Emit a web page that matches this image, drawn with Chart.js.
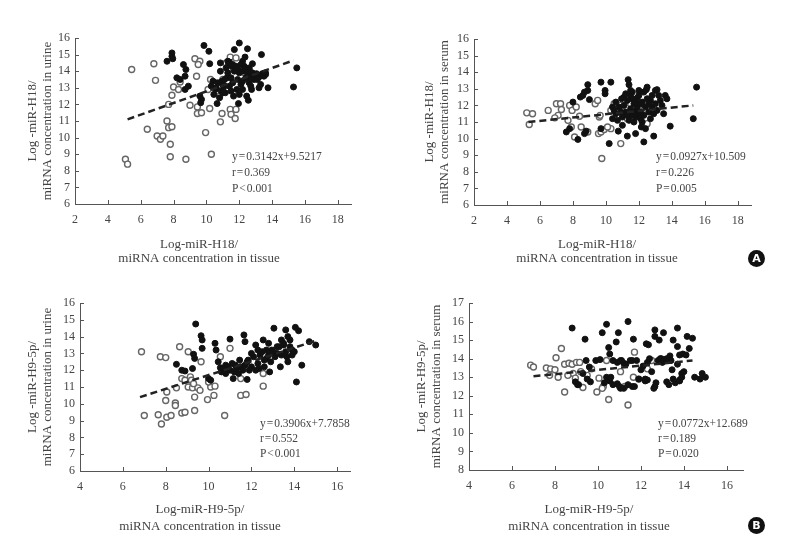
<!DOCTYPE html>
<html>
<head>
<meta charset="utf-8">
<script src="https://cdn.jsdelivr.net/npm/chart.js@4.4.0/dist/chart.umd.min.js"></script>
<style>
  body { margin: 0; background: #fff; }
  #wrap { position: relative; width: 790px; height: 548px; }
  canvas { position: absolute; }
  .badge {
    position: absolute; width: 17px; height: 17px; border-radius: 50%;
    background: #111; color: #fff; font: bold 11px "DejaVu Sans", sans-serif;
    text-align: center; line-height: 17px;
  }
</style>
</head>
<body>
<div id="wrap">
  <canvas id="c1" width="395" height="280" style="left:0;top:0"></canvas>
  <canvas id="c2" width="395" height="280" style="left:395px;top:0"></canvas>
  <canvas id="c3" width="395" height="268" style="left:0;top:280px"></canvas>
  <canvas id="c4" width="395" height="268" style="left:395px;top:280px"></canvas>
  <div class="badge" style="left:748px;top:250px">A</div>
  <div class="badge" style="left:748px;top:517px">B</div>
</div>
<script>
// ---- data: [tissue, fluid] ----
const h18UrineOpen = [[5.07,8.7],[5.2,8.4],[5.45,14.1],[6.4,10.5],[6.8,14.45],[6.9,13.45],[7.0,10.1],[7.2,9.9],[7.35,10.1],[7.6,11.0],[7.7,10.6],[7.9,10.65],[7.8,9.6],[7.8,8.85],[7.7,12.0],[7.9,12.55],[8.0,13.05],[8.3,12.9],[8.4,13.35],[8.75,8.7],[9.0,11.95],[9.4,13.7],[9.3,14.75],[9.6,14.6],[9.5,14.4],[9.45,11.85],[9.45,11.45],[9.7,11.5],[9.95,10.3],[10.2,11.75],[10.3,9.0],[10.25,13.5],[10.4,13.2],[10.85,10.95],[10.95,11.45],[11.45,11.7],[11.5,11.4],[11.75,11.15],[11.8,11.7],[11.45,14.85],[11.8,14.8],[11.65,14.1],[10.8,12.5],[12.3,13.9],[11.2,14.5],[10.5,13.3],[11.0,13.5],[12.6,14.1],[10.1,12.9]];
const h18UrineFilled = [[7.6,14.6],[7.9,15.1],[7.9,14.9],[7.95,14.75],[8.2,13.6],[8.4,13.5],[8.6,14.4],[8.75,14.1],[8.7,13.7],[8.7,12.9],[8.9,13.1],[9.6,12.5],[9.7,12.3],[9.65,12.1],[9.85,15.55],[10.15,15.2],[10.2,14.45],[10.3,13.1],[10.4,13.4],[10.55,12.9],[10.45,12.6],[10.65,12.05],[10.85,14.5],[10.85,14.0],[10.95,13.4],[11.05,13.05],[11.15,12.7],[11.25,13.6],[11.4,14.55],[11.55,14.3],[11.65,12.5],[11.7,15.3],[11.85,12.9],[11.95,12.05],[12.0,15.7],[12.1,13.2],[12.2,14.6],[12.3,14.3],[12.35,14.85],[12.5,15.35],[12.45,12.5],[12.55,12.25],[12.6,14.2],[12.6,13.65],[12.8,14.45],[12.75,12.9],[12.9,13.5],[13.05,13.85],[13.2,13.65],[13.35,15.0],[13.3,13.2],[13.6,13.8],[13.75,13.0],[15.3,13.05],[15.5,14.2],
  [10.6,13.0],[10.7,13.3],[10.9,12.8],[11.0,13.2],[11.1,13.5],[11.2,14.2],[11.3,14.6],[11.3,13.9],[11.4,13.1],[11.5,13.6],[11.6,14.4],[11.6,13.3],[11.7,14.0],[11.8,14.3],[11.9,13.5],[12.0,13.9],[12.1,14.4],[12.2,13.4],[12.3,14.0],[12.4,13.6],[12.5,13.9],[12.6,13.3],[12.7,13.7],[12.8,13.9],[12.9,13.6],[13.0,13.75],[13.1,13.5],[13.4,13.85],[13.5,13.7],[12.2,12.9],[11.5,12.8],[11.0,12.7],[10.8,12.4],[12.0,12.6],[12.7,13.1],[13.2,13.0],[13.6,13.9],[11.35,14.4],[11.9,14.1],[12.15,14.0]];
const h18UrineFit = [[5.2,11.1],[15.3,14.65]];

const h18SerumOpen = [[5.2,11.55],[5.55,11.5],[5.35,10.85],[6.5,11.7],[7.0,12.1],[7.25,12.1],[7.1,11.4],[7.3,11.75],[6.9,11.25],[7.8,12.0],[7.95,11.7],[7.7,11.1],[7.9,10.7],[8.1,10.1],[8.4,11.35],[8.5,10.7],[8.9,10.4],[9.35,12.1],[9.5,12.3],[9.6,11.3],[9.65,11.4],[9.55,10.3],[9.7,10.4],[9.75,8.8],[9.9,10.55],[10.3,10.6],[10.3,11.7],[10.5,12.1],[10.9,9.7],[10.9,12.0],[11.3,11.2],[11.5,12.1],[11.9,11.5],[12.5,10.9],[12.0,11.9],[11.0,11.5],[8.2,11.9],[10.1,10.7],[12.8,11.7]];
const h18SerumFilled = [[8.9,13.25],[8.9,12.9],[8.7,12.8],[8.45,12.5],[8.6,12.6],[9.0,12.35],[8.0,12.2],[7.6,10.4],[7.8,10.6],[8.3,9.95],[8.7,10.3],[8.8,10.45],[9.7,13.4],[9.95,12.9],[9.95,12.7],[10.3,13.4],[9.7,10.6],[10.2,9.7],[10.4,11.9],[10.5,11.7],[10.7,11.1],[10.75,10.45],[10.95,12.4],[11.1,12.5],[11.3,10.15],[11.35,13.55],[11.4,13.25],[11.5,12.6],[11.6,12.4],[11.7,12.1],[11.8,10.3],[11.9,12.45],[11.85,11.7],[12.0,11.4],[12.1,11.2],[12.3,9.8],[12.15,10.7],[12.4,10.6],[12.45,12.95],[12.5,13.1],[12.7,12.3],[12.8,11.9],[12.9,10.15],[13.0,12.9],[13.1,12.95],[13.3,12.3],[13.6,12.6],[13.7,12.4],[13.5,11.5],[13.9,10.75],[15.3,11.2],[15.5,13.1],
  [10.6,11.5],[10.8,11.9],[11.0,11.3],[11.1,12.0],[11.2,11.6],[11.3,12.3],[11.4,11.1],[11.5,11.8],[11.6,11.4],[11.6,12.8],[11.7,11.0],[11.8,12.2],[11.9,11.9],[12.0,12.6],[12.1,11.6],[12.2,12.2],[12.3,11.4],[12.4,11.9],[12.5,12.4],[12.6,11.6],[12.7,11.2],[12.8,12.6],[12.9,11.5],[13.0,12.1],[13.1,11.7],[13.2,12.6],[13.4,12.0],[11.2,12.7],[11.5,12.9],[12.0,12.9],[12.3,12.8],[10.9,11.6],[11.3,11.4],[11.8,11.3],[12.2,11.0],[12.6,12.1],[12.1,12.1],[10.4,11.2],[10.6,12.2],[11.0,10.8],[11.7,11.6]];
const h18SerumFit = [[5.3,11.0],[15.3,12.0]];

const h9UrineOpen = [[6.87,13.1],[7.0,9.3],[7.65,9.35],[7.8,8.8],[7.75,12.8],[8.0,12.75],[8.0,10.2],[8.05,10.7],[8.05,9.2],[8.25,9.3],[8.45,10.05],[8.45,9.9],[8.5,10.95],[8.65,13.4],[8.75,11.5],[8.9,11.4],[8.75,9.45],[8.9,9.5],[9.05,13.1],[9.15,11.6],[9.2,11.4],[9.05,11.0],[9.25,10.95],[9.35,10.4],[9.35,9.6],[9.5,10.95],[9.6,10.8],[9.65,12.5],[9.95,10.25],[10.1,11.0],[10.3,11.05],[10.25,10.5],[10.55,12.8],[10.75,9.3],[11.0,13.3],[11.5,11.5],[11.5,10.5],[11.75,10.55],[12.55,11.8],[12.55,11.05],[9.3,11.2],[10.0,11.3]];
const h9UrineFilled = [[8.5,12.35],[8.75,12.0],[8.9,11.95],[9.4,14.75],[9.25,12.1],[9.3,12.95],[9.35,12.7],[9.65,14.05],[9.7,13.8],[9.7,13.3],[10.0,11.5],[10.1,11.4],[10.3,13.6],[10.35,13.2],[10.45,12.5],[10.55,12.15],[10.8,12.3],[10.85,12.0],[11.0,13.85],[11.15,11.5],[11.25,12.3],[11.45,12.6],[11.65,14.1],[11.7,13.7],[11.8,11.45],[11.85,12.6],[12.2,13.5],[12.3,13.2],[12.35,12.1],[12.55,13.8],[12.7,12.7],[12.85,11.9],[12.95,13.2],[13.05,14.5],[13.2,13.4],[13.35,12.2],[13.5,13.5],[13.6,14.4],[13.65,12.8],[13.8,13.8],[13.9,13.2],[14.05,14.55],[14.2,14.35],[14.1,11.3],[14.35,12.3],[14.7,13.7],[15.0,13.5],
  [10.6,11.9],[10.7,12.1],[10.8,11.8],[10.9,12.2],[11.0,12.0],[11.1,12.4],[11.2,11.9],[11.3,12.1],[11.4,11.8],[11.5,12.2],[11.6,12.0],[11.7,12.3],[11.8,12.5],[12.0,12.2],[12.1,12.8],[12.3,12.4],[12.4,12.9],[12.5,13.1],[12.6,12.6],[12.7,13.2],[12.8,12.9],[12.9,12.5],[13.0,13.1],[13.1,12.8],[13.2,13.0],[13.3,13.4],[13.4,12.9],[13.5,13.6],[13.6,13.1],[13.7,12.5],[13.8,13.4],[13.9,12.9],[14.0,13.1],[12.2,12.0],[11.9,12.0],[12.6,12.2],[13.4,13.8],[13.7,14.0],[12.0,13.0],[12.8,13.6]];
const h9UrineFit = [[6.8,10.4],[15.0,13.75]];

const h9SerumOpen = [[6.87,13.65],[7.0,13.55],[7.6,13.5],[7.8,13.45],[7.75,13.1],[8.05,14.05],[8.3,14.55],[8.0,13.4],[8.15,13.0],[8.45,12.2],[8.45,13.7],[8.65,13.75],[8.8,13.7],[8.85,13.2],[8.95,12.95],[9.0,13.8],[9.15,13.8],[9.3,12.45],[9.5,13.1],[9.7,13.45],[9.95,12.2],[10.05,12.95],[10.25,12.5],[10.4,13.9],[10.5,11.8],[11.05,13.3],[11.25,12.5],[11.4,11.5],[11.65,13.0],[11.7,14.35],[12.3,13.45],[12.5,13.9],[8.6,13.1],[9.2,13.3],[10.2,12.4],[11.9,12.9]];
const h9SerumFilled = [[8.8,15.65],[9.4,15.05],[8.95,12.75],[9.05,12.6],[9.45,13.9],[9.6,13.55],[9.65,12.75],[10.2,15.4],[10.4,15.85],[10.5,14.6],[10.55,14.25],[10.4,13.0],[10.55,12.8],[10.95,15.4],[10.85,14.9],[10.7,13.9],[11.05,13.9],[11.2,13.75],[10.9,12.65],[11.05,12.4],[11.4,16.0],[11.65,15.05],[11.6,13.9],[11.6,12.5],[12.25,14.8],[12.35,14.75],[12.2,12.9],[12.3,13.8],[12.65,15.55],[12.65,15.2],[12.65,12.5],[12.85,15.0],[13.05,15.4],[12.95,14.0],[13.15,13.9],[13.35,14.15],[13.2,12.75],[13.45,13.4],[13.7,15.65],[13.5,15.0],[13.7,14.65],[13.8,14.2],[13.9,13.2],[13.8,12.85],[13.95,14.25],[14.15,15.2],[14.25,14.55],[14.4,15.1],[14.5,13.0],[14.75,12.9],[14.85,13.2],[15.0,13.0],
  [9.1,12.6],[9.3,13.2],[9.5,12.9],[9.9,13.9],[10.1,13.95],[10.3,12.7],[10.6,13.0],[10.7,12.6],[10.9,13.8],[11.0,12.5],[11.1,13.9],[11.2,12.4],[11.3,13.7],[11.4,12.6],[11.5,13.9],[11.8,13.9],[11.9,12.9],[12.0,13.4],[12.2,12.8],[12.3,12.85],[12.4,14.0],[12.5,13.3],[12.6,12.4],[12.7,12.7],[12.8,13.9],[12.9,14.0],[13.0,13.8],[13.1,13.95],[13.2,14.0],[13.3,12.6],[13.4,13.9],[13.5,12.9],[13.6,12.7],[13.7,13.7],[13.8,12.8],[13.9,13.0],[14.0,13.3],[14.1,14.2],[12.1,13.6],[11.7,12.5]];
const h9SerumFit = [[7.0,13.05],[14.4,13.9]];

// tick labels
const xTicksH18 = [2, 4, 6, 8, 10, 12, 14, 16, 18];
const xTicksH9 = [4, 6, 8, 10, 12, 14, 16];
const yTicks6to16 = [6, 7, 8, 9, 10, 11, 12, 13, 14, 15, 16];
const yTicks8to17 = [8, 9, 10, 11, 12, 13, 14, 15, 16, 17];

const SERIF = '"Liberation Serif", "Times New Roman", serif';
const TXT = '#444';
const AXIS = '#555';

const toXY = arr => arr.map(p => ({ x: p[0], y: p[1] }));

// text + inward tick marks
const panelDeco = {
  id: 'panelDeco',
  afterDraw(chart, args, opts) {
    const ctx = chart.ctx;
    const { x, y } = chart.scales;
    ctx.save();
    ctx.strokeStyle = AXIS;
    ctx.lineWidth = 1;
    ctx.beginPath();
    x.ticks.forEach(t => {
      const px = Math.round(x.getPixelForValue(t.value)) + 0.5;
      ctx.moveTo(px, y.bottom);
      ctx.lineTo(px, y.bottom - 4);
    });
    y.ticks.forEach(t => {
      const py = Math.round(y.getPixelForValue(t.value)) + 0.5;
      ctx.moveTo(x.left, py);
      ctx.lineTo(x.left + 4, py);
    });
    ctx.stroke();
    ctx.fillStyle = TXT;
    ctx.textBaseline = 'middle';
    (opts.items || []).forEach(it => {
      ctx.font = it.size + 'px ' + SERIF;
      ctx.textAlign = it.align;
      ctx.fillText(it.text, it.x, it.y);
    });
    ctx.restore();
  }
};

function makePanel(id, p) {
  const cv = document.getElementById(id);
  const W = cv.width, H = cv.height;
  const a = p.area;
  const tk = list => scale => { scale.ticks = list.map(v => ({ value: v })); };
  return new Chart(cv, {
    type: 'scatter',
    data: {
      datasets: [
        {
          type: 'line', data: toXY(p.fit), borderColor: '#222', borderWidth: 2.5,
          borderDash: [7, 4], pointRadius: 0, fill: false
        },
        {
          data: toXY(p.filled), backgroundColor: '#111', borderColor: '#111',
          pointRadius: 3, borderWidth: 1
        },
        {
          data: toXY(p.open), backgroundColor: '#fff', borderColor: '#666',
          pointRadius: 3, borderWidth: 1.4
        }
      ]
    },
    options: {
      responsive: false,
      animation: false,
      layout: { padding: { left: 0, top: a.top, right: W - a.right, bottom: 0 } },
      plugins: {
        legend: { display: false },
        tooltip: { enabled: false },
        panelDeco: { items: p.texts }
      },
      scales: {
        x: {
          type: 'linear', min: p.xMin, max: p.xMax,
          afterBuildTicks: tk(p.xTicks),
          afterFit: s => { s.height = H - a.bottom; },
          grid: { display: false, drawTicks: false },
          border: { color: AXIS, width: 1 },
          ticks: { color: TXT, font: { family: SERIF, size: 12 }, padding: 9, autoSkip: false, maxRotation: 0 }
        },
        y: {
          type: 'linear', min: p.yMin, max: p.yMax,
          afterBuildTicks: tk(p.yTicks),
          afterFit: s => { s.width = a.left; },
          grid: { display: false, drawTicks: false },
          border: { color: AXIS, width: 1 },
          ticks: { color: TXT, font: { family: SERIF, size: 12 }, padding: 5, autoSkip: false },
          title: {
            display: true, text: p.yTitle, color: TXT,
            font: { family: SERIF, size: 13, lineHeight: 1.15 },
            padding: { top: p.yTitleX - 7.5, bottom: 0 }
          }
        }
      }
    },
    plugins: [panelDeco]
  });
}

function notes(cx, ty, lines, sx, sy, step) {
  return [
    { text: ty[0], x: cx, y: ty[1], align: 'center', size: 13 },
    { text: ty[2], x: cx, y: ty[3], align: 'center', size: 13 },
    { text: lines[0], x: sx, y: sy, align: 'left', size: 11.5 },
    { text: lines[1], x: sx, y: sy + step, align: 'left', size: 11.5 },
    { text: lines[2], x: sx, y: sy + 2 * step, align: 'left', size: 11.5 }
  ];
}

makePanel('c1', {
  open: h18UrineOpen, filled: h18UrineFilled, fit: h18UrineFit,
  xMin: 2, xMax: 18.8, xTicks: xTicksH18, yMin: 6, yMax: 16, yTicks: yTicks6to16,
  area: { left: 75, right: 351, top: 38, bottom: 204 },
  yTitle: ['Log -miR-H18/', 'miRNA concentration in urine'], yTitleX: 33,
  texts: notes(199, ['Log-miR-H18/', 245, 'miRNA concentration in tissue', 259],
    ['y\u200a=\u200a0.3142x+9.5217', 'r\u200a=\u200a0.369', 'P\u200a<\u200a0.001'], 232, 157, 16)
});

makePanel('c2', {
  open: h18SerumOpen, filled: h18SerumFilled, fit: h18SerumFit,
  xMin: 2, xMax: 18.8, xTicks: xTicksH18, yMin: 6, yMax: 16, yTicks: yTicks6to16,
  area: { left: 79, right: 356, top: 39, bottom: 205 },
  yTitle: ['Log -miR-H18/', 'miRNA concentration in serum'], yTitleX: 35,
  texts: notes(202, ['Log-miR-H18/', 245, 'miRNA concentration in tissue', 259],
    ['y\u200a=\u200a0.0927x+10.509', 'r\u200a=\u200a0.226', 'P\u200a=\u200a0.005'], 261, 157, 16)
});

makePanel('c3', {
  open: h9UrineOpen, filled: h9UrineFilled, fit: h9UrineFit,
  xMin: 4, xMax: 16.6, xTicks: xTicksH9, yMin: 6, yMax: 16, yTicks: yTicks6to16,
  area: { left: 80, right: 350, top: 23, bottom: 191 },
  yTitle: ['Log -miR-H9-5p/', 'miRNA concentration in urine'], yTitleX: 33,
  texts: notes(200, ['Log-miR-H9-5p/', 230, 'miRNA concentration in tissue', 247],
    ['y\u200a=\u200a0.3906x+7.7858', 'r\u200a=\u200a0.552', 'P\u200a<\u200a0.001'], 260, 144, 15)
});

makePanel('c4', {
  open: h9SerumOpen, filled: h9SerumFilled, fit: h9SerumFit,
  xMin: 4, xMax: 16.75, xTicks: xTicksH9, yMin: 8, yMax: 17, yTicks: yTicks8to17,
  area: { left: 74, right: 348, top: 23, bottom: 190 },
  yTitle: ['Log -miR-H9-5p/', 'miRNA concentration in serum'], yTitleX: 27,
  texts: notes(194, ['Log-miR-H9-5p/', 230, 'miRNA concentration in tissue', 247],
    ['y\u200a=\u200a0.0772x+12.689', 'r\u200a=\u200a0.189', 'P\u200a=\u200a0.020'], 263, 144, 15)
});
</script>
</body>
</html>
